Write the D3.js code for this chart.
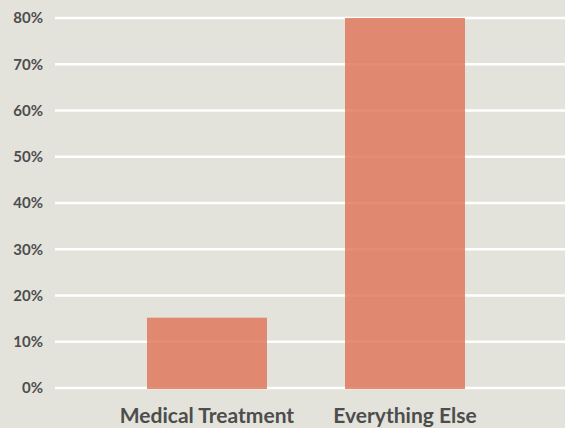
<!DOCTYPE html>
<html><head><meta charset="utf-8">
<script src="https://cdn.jsdelivr.net/npm/d3@7"></script>
<style>body{margin:0;background:#e3e3db;}svg{display:block;font-family:Lato,sans-serif;}</style>
</head><body><svg id="c" width="565" height="428"></svg>
<script>
const categories = ["Medical Treatment", "Everything Else"];
const values = [15.2, 80];
const yTicks = [0, 10, 20, 30, 40, 50, 60, 70, 80];

const svg = d3.select("#c");
svg.append("rect").attr("width",565).attr("height",428).attr("fill","#e3e3db");
const x = d3.scaleBand().domain(categories).range([55,557]).paddingInner(0.394).paddingOuter(0.4646);
const y = d3.scaleLinear().domain([0,80]).range([388,18]);

const grid = svg.append("g");
grid.selectAll("line").data(yTicks).join("line")
  .attr("x1",55).attr("x2",565).attr("y1",d=>y(d)).attr("y2",d=>y(d))
  .attr("stroke","#ffffff").attr("stroke-width",2.5);

const yAxis = d3.axisLeft(y).tickValues(yTicks).tickFormat(d=>d+"%").tickSize(0).tickPadding(0);
const ga = svg.append("g").attr("transform","translate(43,0)").call(yAxis);
ga.select(".domain").remove();
ga.selectAll("text").attr("font-size",15).attr("font-weight",700).attr("fill","#4d4d4d").attr("font-family","Lato");

svg.append("g").selectAll("rect").data(values).join("rect")
  .attr("x",(d,i)=>x(categories[i])).attr("width",x.bandwidth())
  .attr("y",d=>y(d)).attr("height",d=>y(0)-y(d)+1)
  .attr("fill","#e0795d").attr("opacity",0.85);

const xAxis = d3.axisBottom(x).tickSize(0).tickPadding(0);
const gx = svg.append("g").attr("transform","translate(0,423)").call(xAxis);
gx.select(".domain").remove();
gx.selectAll("text").attr("font-size",21).attr("font-weight",700).attr("fill","#4d4d4d").attr("font-family","Lato").attr("dy","0");
</script></body></html>
